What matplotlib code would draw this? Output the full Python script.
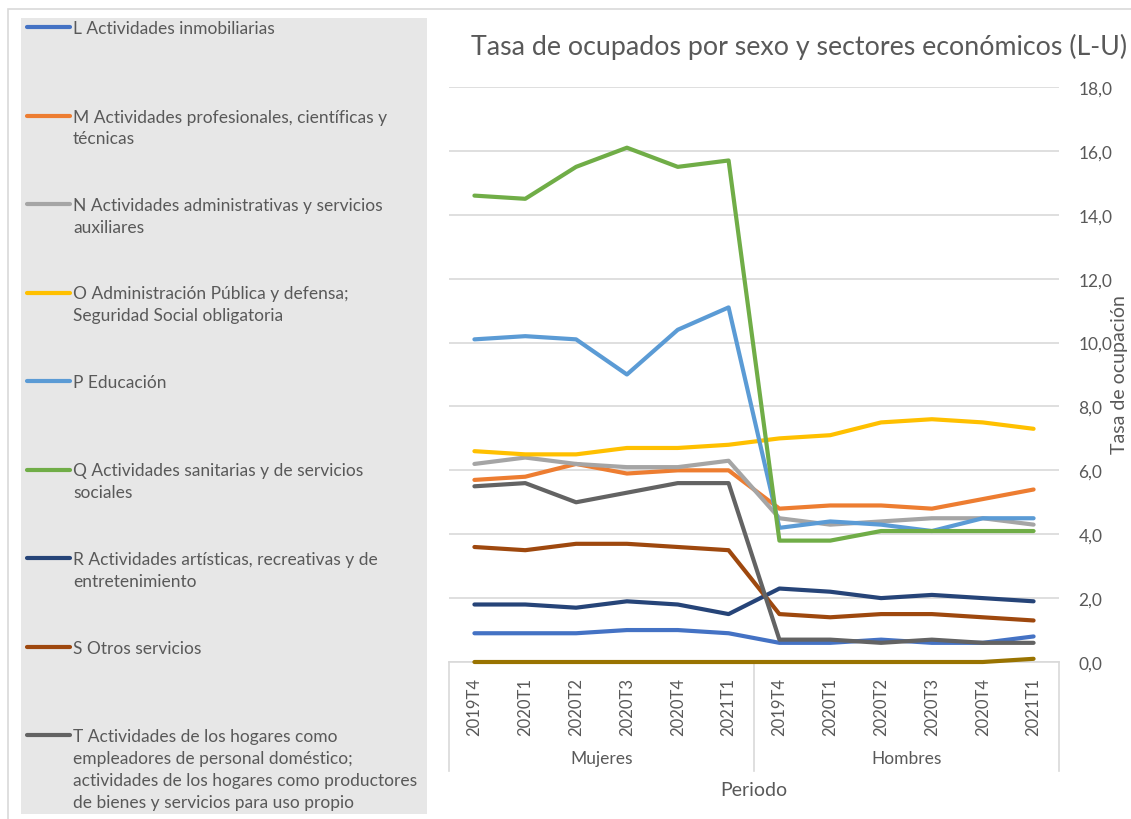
import matplotlib
matplotlib.use("Agg")
import matplotlib.pyplot as plt
from matplotlib.lines import Line2D
from matplotlib.patches import Rectangle
from matplotlib.ticker import FuncFormatter, MultipleLocator

plt.rcParams['font.family'] = ['Lato', 'DejaVu Sans']

# ---------------- datos ----------------
periodos = ["2019T4", "2020T1", "2020T2", "2020T3", "2020T4", "2021T1"]
grupos = ["Mujeres", "Hombres"]

serie_L = [0.9, 0.9, 0.9, 1.0, 1.0, 0.9, 0.6, 0.6, 0.7, 0.6, 0.6, 0.8]
serie_M = [5.7, 5.8, 6.2, 5.9, 6.0, 6.0, 4.8, 4.9, 4.9, 4.8, 5.1, 5.4]
serie_N = [6.2, 6.4, 6.2, 6.1, 6.1, 6.3, 4.5, 4.3, 4.4, 4.5, 4.5, 4.3]
serie_O = [6.6, 6.5, 6.5, 6.7, 6.7, 6.8, 7.0, 7.1, 7.5, 7.6, 7.5, 7.3]
serie_P = [10.1, 10.2, 10.1, 9.0, 10.4, 11.1, 4.2, 4.4, 4.3, 4.1, 4.5, 4.5]
serie_Q = [14.6, 14.5, 15.5, 16.1, 15.5, 15.7, 3.8, 3.8, 4.1, 4.1, 4.1, 4.1]
serie_R = [1.8, 1.8, 1.7, 1.9, 1.8, 1.5, 2.3, 2.2, 2.0, 2.1, 2.0, 1.9]
serie_S = [3.6, 3.5, 3.7, 3.7, 3.6, 3.5, 1.5, 1.4, 1.5, 1.5, 1.4, 1.3]
serie_T = [5.5, 5.6, 5.0, 5.3, 5.6, 5.6, 0.7, 0.7, 0.6, 0.7, 0.6, 0.6]
serie_U = [0.0, 0.0, 0.0, 0.0, 0.0, 0.0, 0.0, 0.0, 0.0, 0.0, 0.0, 0.1]

etiquetas = [
    "L Actividades inmobiliarias",
    "M Actividades profesionales, científicas y\ntécnicas",
    "N Actividades administrativas y servicios\nauxiliares",
    "O Administración Pública y defensa;\nSeguridad Social obligatoria",
    "P Educación",
    "Q Actividades sanitarias y de servicios\nsociales",
    "R Actividades artísticas, recreativas y de\nentretenimiento",
    "S Otros servicios",
    "T Actividades de los hogares como\nempleadores de personal doméstico;\n"
    "actividades de los hogares como productores\nde bienes y servicios para uso propio",
    "U Actividades de organizaciones y organismos\nextraterritoriales",
]
series = [serie_L, serie_M, serie_N, serie_O, serie_P, serie_Q, serie_R, serie_S, serie_T, serie_U]
colores = ["#4472C4", "#ED7D31", "#A5A5A5", "#FFC000", "#5B9BD5",
           "#70AD47", "#264478", "#9E480E", "#636363", "#997300"]

texto = "#595959"
rejilla = "#D9D9D9"

# ---------------- figura ----------------
W, H = 1131, 820
fig = plt.figure(figsize=(W / 100, H / 100), dpi=100)

def fx(px):
    return px / W

def fy(py):
    return 1 - py / H

# marco exterior del grafico
fig.patches.append(Rectangle((fx(8), fy(830)), fx(1140), fy(10) - fy(830),
                             transform=fig.transFigure, fill=False,
                             edgecolor=rejilla, lw=1.2))
# caja gris de la leyenda
fig.patches.append(Rectangle((fx(21), fy(815)), fx(427 - 21), fy(19) - fy(815),
                             transform=fig.transFigure, facecolor="#E7E7E7",
                             edgecolor="none"))

ax = fig.add_axes([fx(449), fy(663), fx(1059 - 449), fy(88) - fy(663)])

x = list(range(len(periodos) * len(grupos)))
for vals, col in zip(series, colores):
    ax.plot(x, vals, color=col, lw=3, solid_capstyle="round", solid_joinstyle="round",
            zorder=3, clip_on=False)

ax.set_xlim(-0.5, 11.5)
ax.set_ylim(0, 18)
ax.yaxis.set_major_locator(MultipleLocator(2))
ax.yaxis.set_major_formatter(FuncFormatter(lambda v, p: f"{v:.1f}".replace(".", ",")))
ax.yaxis.tick_right()
ax.grid(axis="y", color=rejilla, lw=1.2)
ax.set_axisbelow(True)
for s in ["top", "left", "right"]:
    ax.spines[s].set_visible(False)
ax.spines["bottom"].set_color(rejilla)
ax.spines["bottom"].set_linewidth(1.2)
ax.tick_params(axis="y", length=0, pad=14, labelsize=12.5, labelcolor=texto)

ax.set_xticks(x)
ax.set_xticklabels(periodos * len(grupos), rotation=90, fontsize=12, color=texto)
ax.tick_params(axis="x", length=0, pad=11)

tr = ax.get_xaxis_transform()
for xs in [-0.5, 5.5, 11.5]:
    ax.plot([xs, xs], [0, -0.19], transform=tr, color=rejilla, lw=1.2, clip_on=False)
for i, g in enumerate(grupos):
    ax.text(i * 6 + 2.5, -0.167, g, transform=tr, ha="center", va="center",
            fontsize=12.5, color=texto)
ax.text(5.5, -0.222, "Periodo", transform=tr, ha="center", va="center",
        fontsize=14, color=texto)

fig.text(fx(799), fy(47), "Tasa de ocupados por sexo y sectores económicos (L-U)",
         ha="center", va="center", fontsize=19.3, color=texto)
fig.text(fx(1119), fy(375), "Tasa de ocupación", rotation=90, ha="center",
         va="center", fontsize=14, color=texto)

# ---------------- leyenda ----------------
y0, paso = 28, 88.5
for i, (lab, col) in enumerate(zip(etiquetas, colores)):
    yy = y0 + i * paso
    if yy > 800:
        continue
    fig.add_artist(Line2D([fx(27), fx(70)], [fy(yy), fy(yy)], color=col, lw=3,
                          solid_capstyle="round", transform=fig.transFigure))
    fig.text(fx(73), fy(yy - 7), lab, ha="left", va="top", fontsize=12.5, color=texto,
             linespacing=1.45, transform=fig.transFigure)

fig.savefig("out.png", dpi=100)
